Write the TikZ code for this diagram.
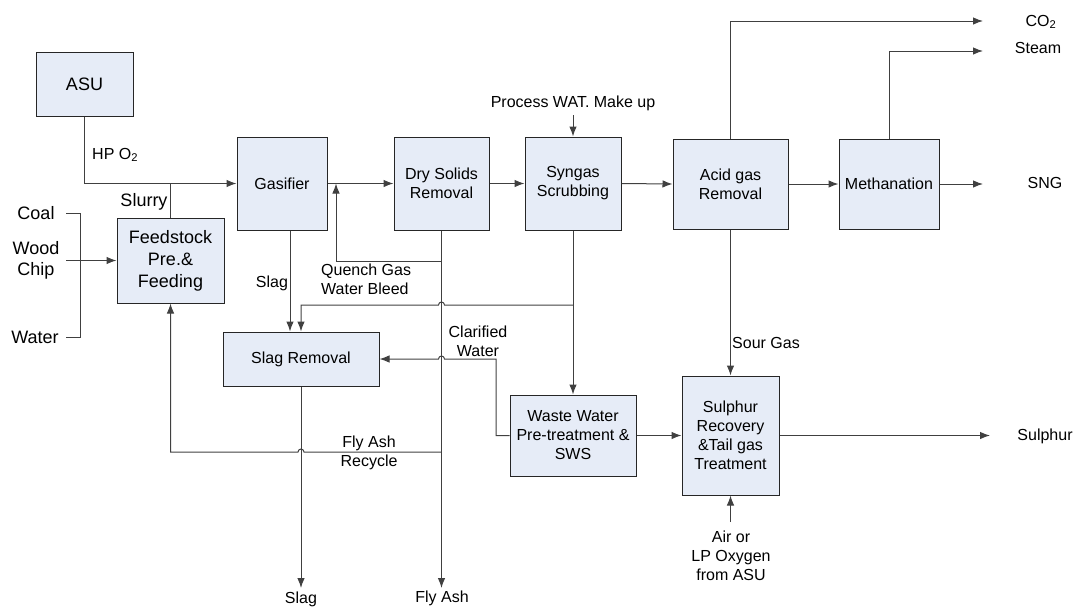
\documentclass[tikz,border=0pt]{standalone}
\usepackage{fontspec}
\setmainfont{Liberation Sans}
\usetikzlibrary{arrows.meta}
\definecolor{boxfill}{HTML}{E6ECF7}
\definecolor{ln}{HTML}{404040}
\tikzset{
  blk/.style={draw=black!85, line width=1pt, fill=boxfill, align=center, inner sep=0pt,
    font=\fontsize{16}{19}\selectfont},
  arr/.style={ln, line width=1pt, -{Latex[length=10pt,width=7.5pt]}},
  pl/.style={ln, line width=1pt},
  lbl/.style={inner sep=0pt, align=center, font=\fontsize{16}{19}\selectfont},
  lbig/.style={inner sep=0pt, align=center, font=\fontsize{18}{21}\selectfont}
}
\begin{document}
\begin{tikzpicture}[x=1pt,y=-1pt]
\useasboundingbox (0,0) rectangle (1075,606);
% boxes
\node[blk, font=\fontsize{18}{21}\selectfont, minimum width=97pt, minimum height=64pt] (asu) at (84.5,84) {ASU};
\node[blk, minimum width=90pt, minimum height=93pt] (gas) at (282,183.5) {Gasifier};
\node[blk, font=\fontsize{18}{22}\selectfont, minimum width=107pt, minimum height=85pt] (feed) at (170.5,260.5) {Feedstock\\Pre.\&\\Feeding};
\node[blk, minimum width=95pt, minimum height=93pt] (dry) at (441.5,183.5) {Dry Solids\\Removal};
\node[blk, minimum width=96pt, minimum height=93pt] (syn) at (573,183.5) {Syngas\\Scrubbing};
\node[blk, minimum width=115pt, minimum height=90pt] (acid) at (730.5,184) {Acid gas\\Removal};
\node[blk, minimum width=100pt, minimum height=90pt] (meth) at (889,184) {Methanation};
\node[blk, minimum width=156pt, minimum height=54pt] (slag) at (301,359) {Slag Removal};
\node[blk, minimum width=126pt, minimum height=81pt] (waste) at (573,435.5) {Waste Water\\Pre-treatment \&\\SWS};
\node[blk, minimum width=97pt, minimum height=119pt] (sul) at (730.5,435.5) {Sulphur\\Recovery\\\&Tail gas\\Treatment};

% labels
\node[lbl, anchor=west] (lo2) at (92,155) {HP O\textsubscript{2}};
\node[lbig] (lslurry) at (144,202) {Slurry};
\node[lbig] (lcoal) at (36,213) {Coal};
\node[lbig, font=\fontsize{18}{21}\selectfont] (lwood) at (36,260) {Wood\\Chip};
\node[lbig] (lwater) at (35,337) {Water};
\node[lbl] (lslag) at (272,283) {Slag};
\node[lbl, anchor=west, align=left] (lquench) at (321,279) {Quench Gas\\Water Bleed};
\node[lbl] (lclar) at (478,341) {Clarified\\Water};
\node[lbl] (lfly) at (369,453) {Fly Ash\\Recycle};
\node[lbl] (lproc) at (573,103) {Process WAT. Make up};
\node[lbl, anchor=west] (lsour) at (732,343) {Sour Gas};
\node[lbl] (lco2) at (1041,22) {CO\textsubscript{2}};
\node[lbl] (lsteam) at (1038,48) {Steam};
\node[lbl] (lsng) at (1045,183) {SNG};
\node[lbl] (lsul) at (1045,436) {Sulphur};
\node[lbl] (lslagout) at (301,599) {Slag};
\node[lbl] (lfly2) at (442,598) {Fly Ash};
\node[lbl] (lair) at (731,556) {Air or\\LP Oxygen\\from ASU};

% coordinates
\coordinate (co2) at (983,21);
\coordinate (steam) at (983,51);
\coordinate (sng) at (983,184);
\coordinate (sulout) at (990,435.5);
\coordinate (airin) at (730.5,522);
\coordinate (procin) at (573,115);
\coordinate (j1) at (573,305);
\coordinate (slagx) at (290,0);
\coordinate (slagend) at (301,588);
\coordinate (flyend) at (441.5,588);
\coordinate (qj) at (441.5,261);
\coordinate (qx) at (336,183.5);
\coordinate (rj) at (441.5,452);
\coordinate (bkin) at (66,260.5);

% flows
\draw[arr] (asu.south) |- (gas.west);
\draw[pl] (feed.north) -- (feed.north |- gas.west);
\draw[arr] (gas.east) -- (dry.west);
\draw[arr] (dry.east) -- (syn.west);
\draw[arr] (syn.east) -- (acid.west);
\draw[arr] (acid.east) -- (meth.west);
\draw[arr] (meth.east) -- (sng);
\draw[arr] (acid.north) |- (co2);
\draw[arr] (meth.north) |- (steam);
\draw[arr] (acid.south) -- (sul.north);
\draw[arr] (sul.east) -- (sulout);
\draw[arr] (airin) -- (sul.south);
\draw[arr] (procin) -- (syn.north);
\draw[arr] (syn.south) -- (waste.north);
\draw[arr] (waste.east) -- (sul.west);
\draw[arr] (gas.south -| slagx) -- (slag.north -| slagx);
\draw[arr] (j1) -- (444.5,305) arc[start angle=0,end angle=180,radius=3pt] -- (slag.north |- j1) -- (slag.north);
\draw[arr] (dry.south) -- (flyend);
\draw[arr] (qj) -| (qx);
\draw[arr] (waste.west) -| (496,359) -- (444.5,359) arc[start angle=0,end angle=180,radius=3pt] -- (slag.east);
\draw[arr] (rj) -- (304,452) arc[start angle=0,end angle=180,radius=3pt] -- (170.5,452) -- (feed.south);
\draw[arr] (slag.south) -- (slagend);
\draw[pl] (66,213) -- (80,213) -- (80,337) -- (66,337);
\draw[arr] (bkin) -- (feed.west);
\end{tikzpicture}
\end{document}
